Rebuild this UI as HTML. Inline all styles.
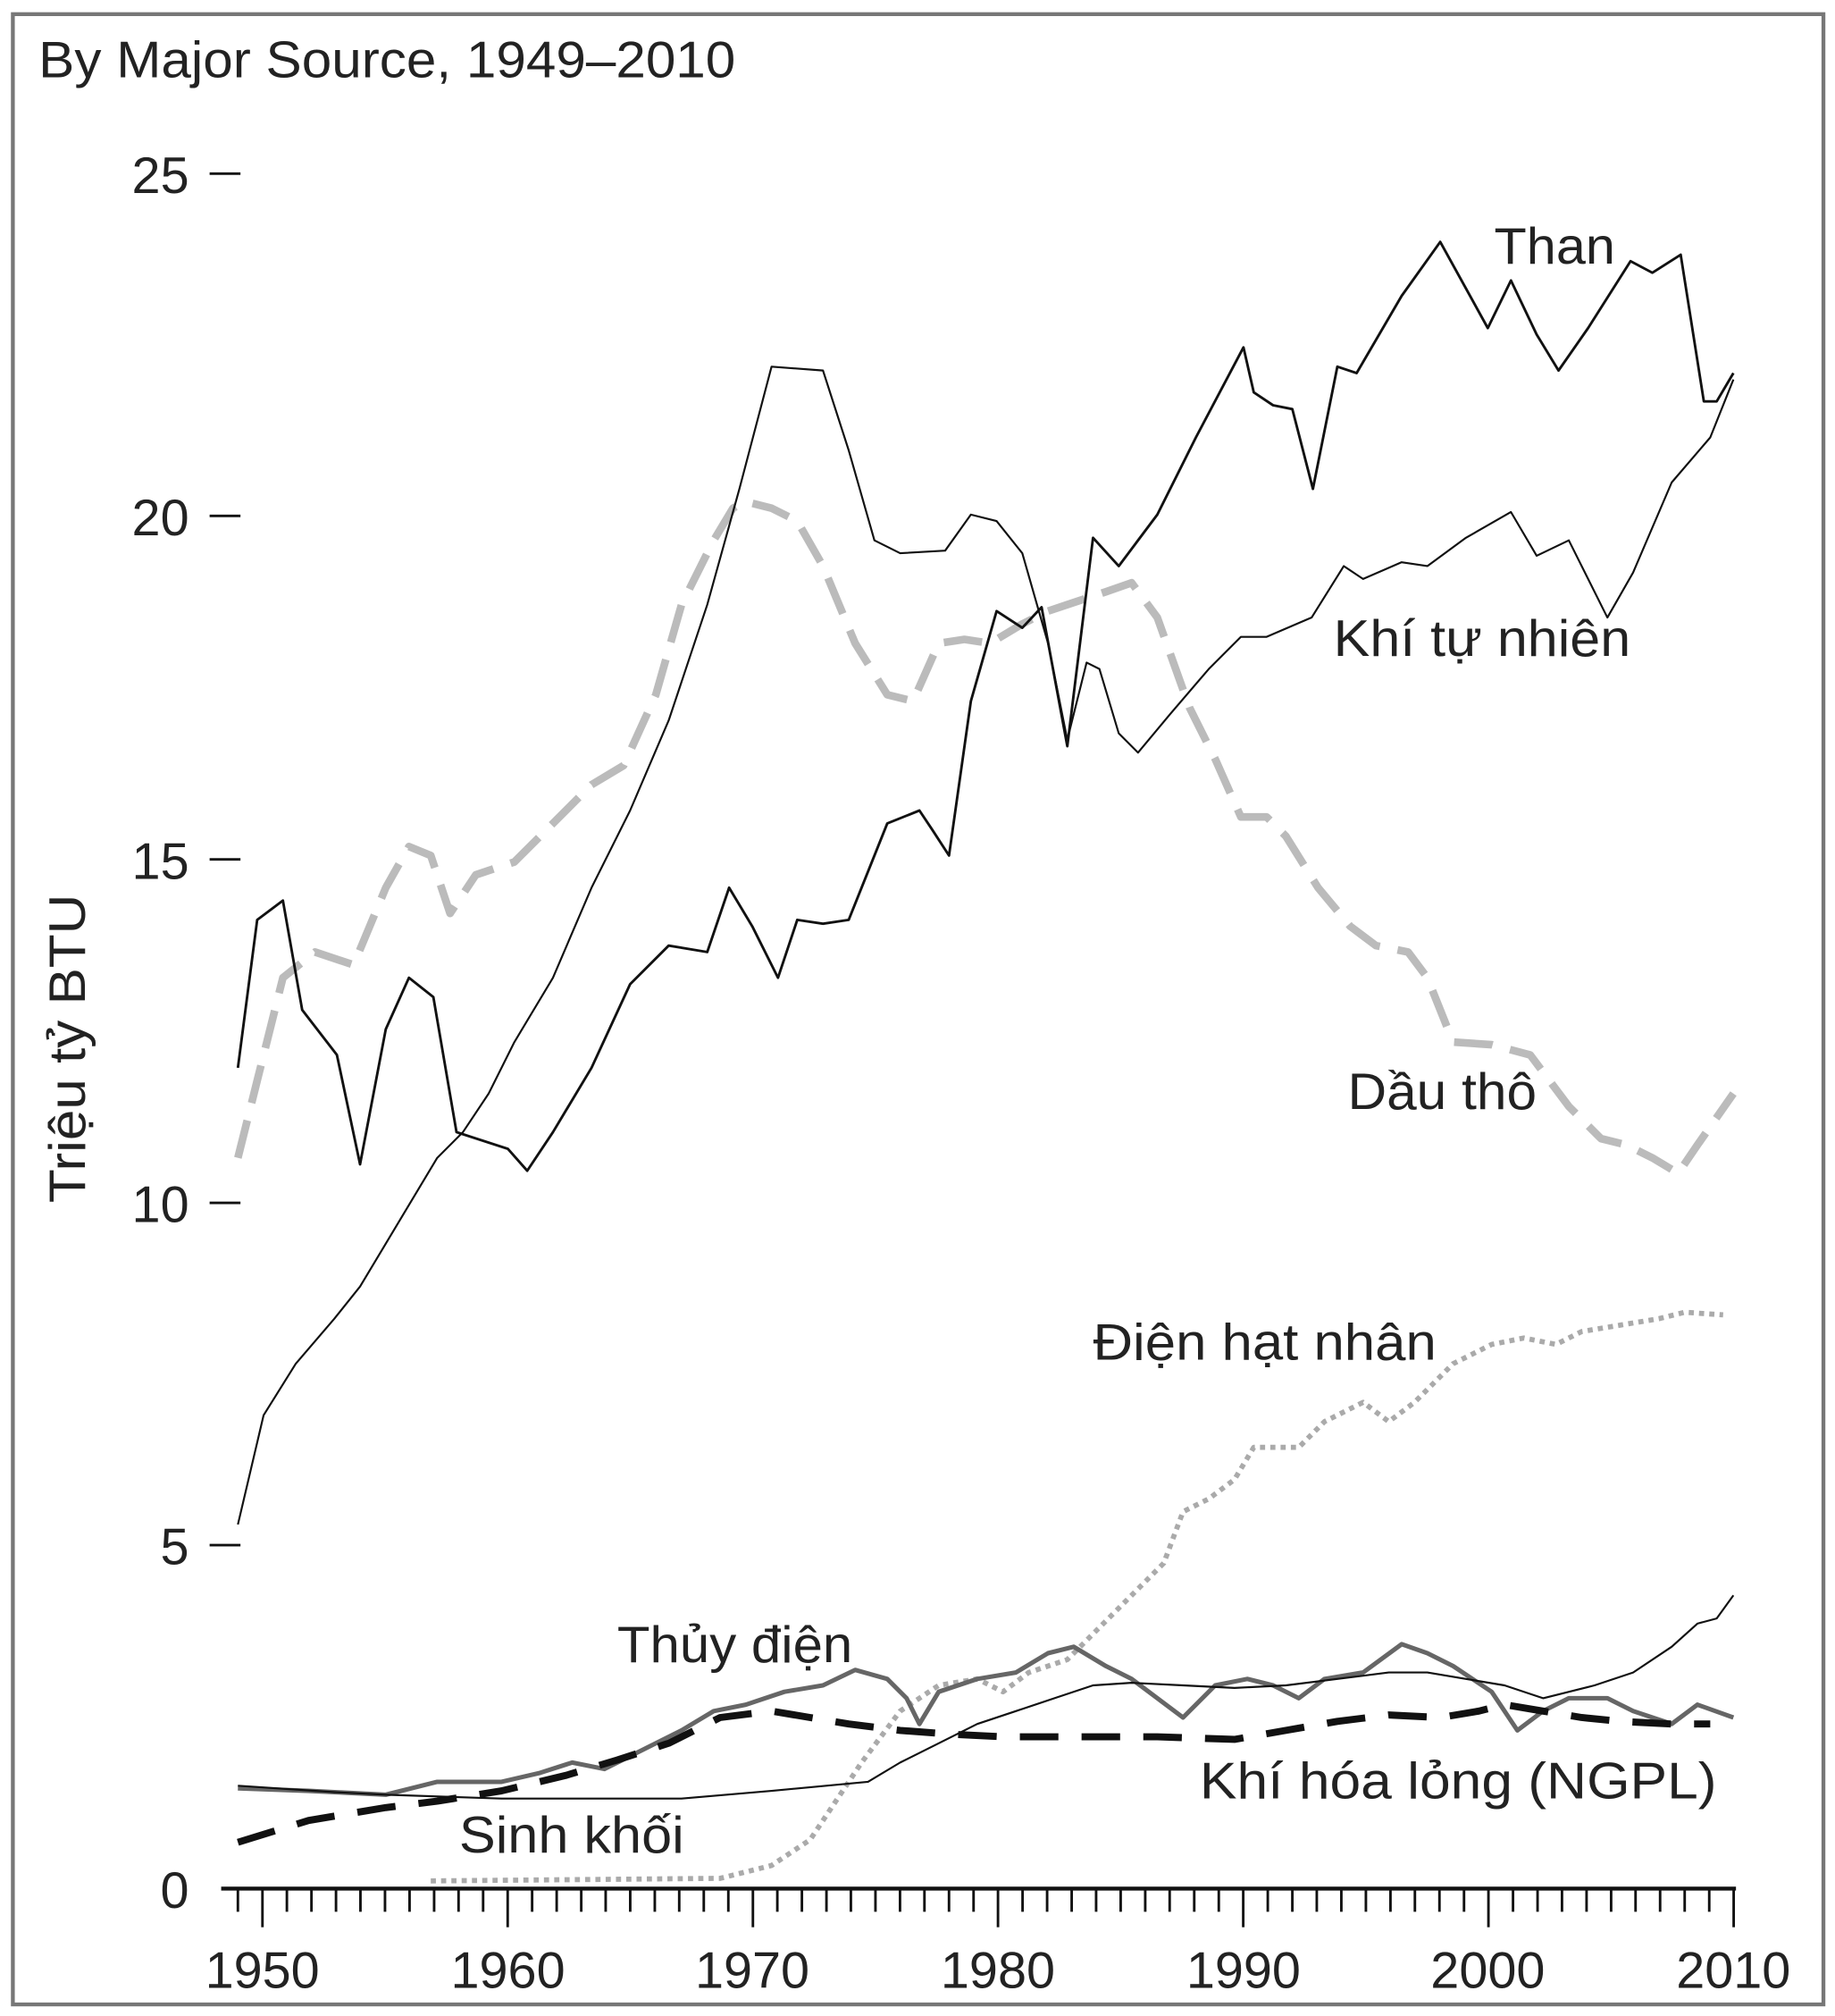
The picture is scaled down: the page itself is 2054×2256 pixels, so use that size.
<!DOCTYPE html>
<html><head><meta charset="utf-8"><style>
html,body{margin:0;padding:0;background:#fff;}
svg{display:block;}
text{font-family:"Liberation Sans",sans-serif;fill:#222;}
</style></head><body>
<svg width="2054" height="2256" viewBox="0 0 1427 1567" preserveAspectRatio="none" xmlns="http://www.w3.org/2000/svg">
<rect x="0" y="0" width="1427" height="1567" fill="#fff"/>
<rect x="10" y="11" width="1408" height="1547" fill="none" stroke="#777" stroke-width="3"/>
<text x="30" y="60" font-size="40" textLength="542" lengthAdjust="spacingAndGlyphs">By Major Source, 1949–2010</text>
<text transform="translate(66,935) rotate(-90)" font-size="40" textLength="240" lengthAdjust="spacingAndGlyphs">Triệu tỷ BTU</text>
<g font-size="40" text-anchor="end">
<text x="147" y="150">25</text><text x="147" y="416">20</text><text x="147" y="683">15</text>
<text x="147" y="950">10</text><text x="147" y="1216">5</text><text x="147" y="1483">0</text>
</g>
<g stroke="#111" stroke-width="2">
<line x1="163" y1="135" x2="187" y2="135"/><line x1="163" y1="401" x2="187" y2="401"/>
<line x1="163" y1="668" x2="187" y2="668"/><line x1="163" y1="935" x2="187" y2="935"/>
<line x1="163" y1="1201" x2="187" y2="1201"/>
<line x1="172" y1="1468" x2="1350" y2="1468" stroke-width="3"/>
</g>
<g stroke="#111" stroke-width="2" id="ticks"></g>
<g font-size="40" text-anchor="middle">
<text x="204" y="1545">1950</text><text x="395" y="1545">1960</text><text x="585" y="1545">1970</text>
<text x="776" y="1545">1980</text><text x="967" y="1545">1990</text><text x="1157" y="1545">2000</text><text x="1348" y="1545">2010</text>
</g>
<g fill="none" stroke-linejoin="round" stroke-linecap="butt">
<!-- Oil -->
<polyline stroke="#bbb" stroke-width="6" stroke-dasharray="30,14" points="185,900 200,840 220,760 245,740 275,750 300,690 318,658 335,665 350,710 370,680 400,670 430,640 460,610 485,595 510,540 530,470 555,420 570,395 580,390 600,395 620,405 640,440 665,500 690,540 710,545 730,500 750,497 770,500 795,485 815,475 830,470 860,460 880,453 900,480 925,550 945,590 965,635 985,635 1000,650 1025,690 1050,720 1070,735 1095,740 1110,760 1130,810 1160,812 1190,820 1220,860 1245,885 1265,890 1285,900 1305,912 1320,890 1348,850"/>
<!-- Nuclear -->
<polyline stroke="#aaa" stroke-width="4" stroke-dasharray="4,4" points="335,1462 560,1460 600,1450 630,1430 650,1400 670,1370 700,1330 730,1310 760,1305 780,1315 800,1300 830,1290 850,1270 870,1250 890,1230 905,1215 920,1175 940,1165 960,1150 975,1125 990,1125 1010,1125 1030,1105 1060,1090 1080,1105 1100,1090 1130,1060 1160,1045 1185,1040 1210,1045 1230,1035 1260,1030 1290,1025 1310,1020 1340,1022"/>
<!-- Coal -->
<polyline stroke="#111" stroke-width="2" points="185,830 200,715 220,700 235,785 262,820 280,905 300,800 318,760 337,775 355,880 395,893 410,910 430,880 460,830 490,765 520,735 550,740 567,690 585,720 605,760 620,715 640,718 660,715 690,640 715,630 725,645 738,665 755,545 775,475 795,488 810,472 830,580 850,418 870,440 900,400 930,340 967,270 975,305 990,315 1005,318 1021,380 1040,285 1055,290 1090,230 1120,188 1157,255 1175,218 1195,260 1212,288 1235,255 1268,203 1285,212 1307,198 1325,312 1335,312 1348,290"/>
<!-- Natural gas -->
<polyline stroke="#111" stroke-width="1.5" points="185,1185 205,1100 230,1060 260,1025 280,1000 310,950 340,900 360,880 380,850 400,810 430,760 460,690 490,630 520,560 550,470 575,380 600,285 640,288 660,350 680,420 700,430 735,428 755,400 775,405 795,430 815,500 830,575 845,515 855,520 870,570 885,585 910,555 940,520 965,495 985,495 1020,480 1045,440 1060,450 1090,437 1110,440 1140,418 1175,398 1195,432 1220,420 1250,480 1270,445 1300,375 1330,340 1348,295"/>
<!-- Hydro -->
<polyline stroke="#666" stroke-width="3.5" points="185,1390 240,1392 300,1395 340,1385 390,1385 420,1378 445,1370 470,1375 500,1360 530,1345 555,1330 580,1325 610,1315 640,1310 665,1298 690,1305 705,1320 715,1340 730,1315 760,1305 790,1300 815,1285 835,1280 860,1295 880,1305 900,1320 920,1335 945,1310 970,1305 990,1310 1010,1320 1030,1305 1060,1300 1090,1278 1110,1285 1130,1295 1160,1315 1180,1345 1200,1330 1220,1320 1250,1320 1270,1330 1300,1340 1320,1325 1348,1335"/>
<!-- Biomass -->
<polyline stroke="#111" stroke-width="1.5" points="185,1388 260,1393 300,1395 390,1398 530,1398 600,1392 675,1385 700,1370 730,1355 760,1340 790,1330 820,1320 850,1310 880,1308 920,1310 960,1312 1000,1310 1040,1305 1080,1300 1110,1300 1140,1305 1170,1310 1200,1320 1240,1310 1270,1300 1300,1280 1320,1262 1335,1258 1348,1240"/>
<!-- NGPL -->
<polyline stroke="#111" stroke-width="5.5" stroke-dasharray="30,18" points="185,1432 240,1415 300,1405 340,1400 390,1392 440,1380 480,1368 520,1355 560,1335 600,1330 630,1335 660,1340 700,1345 740,1348 780,1350 830,1350 900,1350 960,1352 1000,1345 1040,1338 1080,1333 1120,1335 1150,1330 1170,1325 1200,1330 1230,1335 1260,1338 1300,1340 1330,1340"/>
</g>
<g font-size="40">
<text x="1162" y="205" textLength="94" lengthAdjust="spacingAndGlyphs">Than</text>
<text x="1037" y="510" textLength="231" lengthAdjust="spacingAndGlyphs">Khí tự nhiên</text>
<text x="1048" y="862" textLength="147" lengthAdjust="spacingAndGlyphs">Dầu thô</text>
<text x="850" y="1057" textLength="267" lengthAdjust="spacingAndGlyphs">Điện hạt nhân</text>
<text x="480" y="1292" textLength="183" lengthAdjust="spacingAndGlyphs">Thủy điện</text>
<text x="933" y="1398" textLength="402" lengthAdjust="spacingAndGlyphs">Khí hóa lỏng (NGPL)</text>
<text x="357" y="1440" textLength="175" lengthAdjust="spacingAndGlyphs">Sinh khối</text>
</g>
<g stroke="#111" stroke-width="2">
<line x1="185.0" y1="1468" x2="185.0" y2="1486"/><line x1="204.1" y1="1468" x2="204.1" y2="1498"/><line x1="223.1" y1="1468" x2="223.1" y2="1486"/><line x1="242.2" y1="1468" x2="242.2" y2="1486"/><line x1="261.3" y1="1468" x2="261.3" y2="1486"/><line x1="280.3" y1="1468" x2="280.3" y2="1486"/><line x1="299.4" y1="1468" x2="299.4" y2="1486"/><line x1="318.5" y1="1468" x2="318.5" y2="1486"/><line x1="337.6" y1="1468" x2="337.6" y2="1486"/><line x1="356.6" y1="1468" x2="356.6" y2="1486"/><line x1="375.7" y1="1468" x2="375.7" y2="1486"/><line x1="394.8" y1="1468" x2="394.8" y2="1498"/><line x1="413.8" y1="1468" x2="413.8" y2="1486"/><line x1="432.9" y1="1468" x2="432.9" y2="1486"/><line x1="452.0" y1="1468" x2="452.0" y2="1486"/><line x1="471.0" y1="1468" x2="471.0" y2="1486"/><line x1="490.1" y1="1468" x2="490.1" y2="1486"/><line x1="509.2" y1="1468" x2="509.2" y2="1486"/><line x1="528.2" y1="1468" x2="528.2" y2="1486"/><line x1="547.3" y1="1468" x2="547.3" y2="1486"/><line x1="566.4" y1="1468" x2="566.4" y2="1486"/><line x1="585.5" y1="1468" x2="585.5" y2="1498"/><line x1="604.5" y1="1468" x2="604.5" y2="1486"/><line x1="623.6" y1="1468" x2="623.6" y2="1486"/><line x1="642.7" y1="1468" x2="642.7" y2="1486"/><line x1="661.7" y1="1468" x2="661.7" y2="1486"/><line x1="680.8" y1="1468" x2="680.8" y2="1486"/><line x1="699.9" y1="1468" x2="699.9" y2="1486"/><line x1="718.9" y1="1468" x2="718.9" y2="1486"/><line x1="738.0" y1="1468" x2="738.0" y2="1486"/><line x1="757.1" y1="1468" x2="757.1" y2="1486"/><line x1="776.1" y1="1468" x2="776.1" y2="1498"/><line x1="795.2" y1="1468" x2="795.2" y2="1486"/><line x1="814.3" y1="1468" x2="814.3" y2="1486"/><line x1="833.4" y1="1468" x2="833.4" y2="1486"/><line x1="852.4" y1="1468" x2="852.4" y2="1486"/><line x1="871.5" y1="1468" x2="871.5" y2="1486"/><line x1="890.6" y1="1468" x2="890.6" y2="1486"/><line x1="909.6" y1="1468" x2="909.6" y2="1486"/><line x1="928.7" y1="1468" x2="928.7" y2="1486"/><line x1="947.8" y1="1468" x2="947.8" y2="1486"/><line x1="966.8" y1="1468" x2="966.8" y2="1498"/><line x1="985.9" y1="1468" x2="985.9" y2="1486"/><line x1="1005.0" y1="1468" x2="1005.0" y2="1486"/><line x1="1024.0" y1="1468" x2="1024.0" y2="1486"/><line x1="1043.1" y1="1468" x2="1043.1" y2="1486"/><line x1="1062.2" y1="1468" x2="1062.2" y2="1486"/><line x1="1081.3" y1="1468" x2="1081.3" y2="1486"/><line x1="1100.3" y1="1468" x2="1100.3" y2="1486"/><line x1="1119.4" y1="1468" x2="1119.4" y2="1486"/><line x1="1138.5" y1="1468" x2="1138.5" y2="1486"/><line x1="1157.5" y1="1468" x2="1157.5" y2="1498"/><line x1="1176.6" y1="1468" x2="1176.6" y2="1486"/><line x1="1195.7" y1="1468" x2="1195.7" y2="1486"/><line x1="1214.7" y1="1468" x2="1214.7" y2="1486"/><line x1="1233.8" y1="1468" x2="1233.8" y2="1486"/><line x1="1252.9" y1="1468" x2="1252.9" y2="1486"/><line x1="1271.9" y1="1468" x2="1271.9" y2="1486"/><line x1="1291.0" y1="1468" x2="1291.0" y2="1486"/><line x1="1310.1" y1="1468" x2="1310.1" y2="1486"/><line x1="1329.2" y1="1468" x2="1329.2" y2="1486"/><line x1="1348.2" y1="1468" x2="1348.2" y2="1498"/>
</g>
</svg>
</body></html>
